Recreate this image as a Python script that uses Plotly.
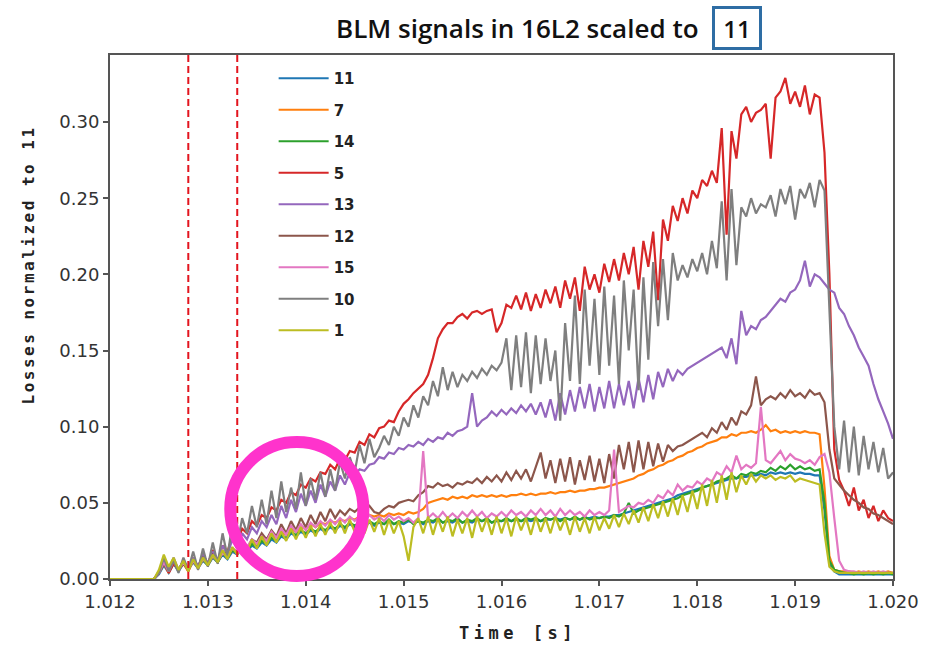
import plotly.graph_objects as go

# time grid (s), 50 us sampling
t0 = 1.012
dt = 0.00005
time_s = [round(t0 + i * dt, 6) for i in range(161)]

labels = ["11", "7", "14", "5", "13", "12", "15", "10", "1"]
colors = ["#1f77b4", "#ff7f0e", "#2ca02c", "#d62728", "#9467bd",
          "#8c564b", "#e377c2", "#7f7f7f", "#bcbd22"]

blm_11 = [0,0,0,0,0,0,0,0,0,0,
 .003,.009,.004,.010,.005,.010,.006,.011,.007,.012,
 .009,.014,.011,.016,.013,.018,.016,.020,.018,.022,
 .020,.024,.022,.026,.024,.028,.026,.030,.028,.031,
 .029,.032,.030,.033,.031,.034,.032,.035,.033,.036,
 .034,.036,.035,.037,.035,.037,.036,.038,.036,.037,
 .036,.038,.037,.038,.036,.038,.037,.039,.037,.038,
 .037,.039,.037,.038,.037,.039,.038,.039,.037,.038,
 .038,.039,.038,.039,.038,.039,.038,.039,.038,.039,
 .039,.040,.039,.040,.039,.040,.039,.040,.040,.041,
 .040,.041,.041,.042,.042,.043,.044,.045,.046,.047,
 .048,.049,.050,.051,.052,.053,.055,.056,.057,.058,
 .059,.060,.061,.062,.063,.064,.065,.066,.066,.067,
 .067,.068,.068,.069,.068,.070,.069,.070,.069,.070,
 .069,.070,.069,.069,.068,.068,.045,.010,.005,.003,
 .003,.003,.003,.003,.003,.003,.003,.003,.003,.003,
 .003]

blm_7 = [0,0,0,0,0,0,0,0,0,0,
 .004,.010,.004,.012,.006,.010,.005,.012,.007,.013,
 .009,.015,.011,.017,.014,.019,.017,.022,.020,.025,
 .022,.027,.025,.029,.027,.031,.029,.033,.031,.034,
 .033,.036,.034,.037,.036,.038,.037,.039,.038,.040,
 .039,.041,.040,.042,.041,.042,.041,.043,.042,.043,
 .042,.044,.043,.044,.046,.050,.051,.052,.053,.052,
 .054,.053,.054,.053,.055,.054,.055,.054,.055,.054,
 .055,.054,.055,.055,.056,.055,.056,.055,.056,.056,
 .057,.056,.057,.057,.058,.057,.058,.058,.059,.059,
 .060,.060,.061,.062,.063,.064,.065,.066,.068,.069,
 .071,.072,.074,.075,.077,.078,.080,.081,.083,.084,
 .086,.087,.089,.090,.091,.093,.093,.095,.094,.096,
 .096,.097,.096,.098,.101,.097,.098,.096,.097,.096,
 .097,.096,.097,.096,.096,.095,.060,.015,.006,.005,
 .005,.005,.004,.005,.004,.005,.004,.005,.004,.005,
 .004]

blm_14 = [0,0,0,0,0,0,0,0,0,0,
 .004,.010,.005,.011,.006,.011,.006,.012,.008,.013,
 .009,.015,.011,.017,.014,.019,.017,.021,.019,.023,
 .021,.025,.023,.027,.025,.029,.027,.031,.029,.032,
 .030,.033,.031,.034,.032,.035,.033,.036,.034,.037,
 .035,.037,.035,.038,.036,.038,.036,.039,.036,.038,
 .037,.039,.036,.038,.037,.039,.038,.040,.037,.039,
 .038,.040,.037,.039,.038,.040,.038,.040,.037,.039,
 .038,.040,.038,.040,.038,.040,.039,.040,.038,.040,
 .039,.040,.038,.040,.039,.041,.039,.041,.039,.040,
 .040,.041,.040,.042,.041,.043,.050,.043,.045,.046,
 .047,.048,.049,.050,.051,.052,.053,.055,.056,.057,
 .058,.060,.061,.062,.064,.065,.066,.068,.066,.069,
 .068,.070,.069,.071,.070,.073,.071,.074,.072,.075,
 .072,.074,.072,.073,.071,.072,.050,.012,.006,.005,
 .004,.004,.003,.004,.003,.004,.003,.004,.003,.004,
 .003]

blm_5 = [0,0,0,0,0,0,0,0,0,0,
 .005,.012,.004,.010,.006,.012,.005,.014,.008,.016,
 .010,.019,.012,.022,.018,.028,.024,.033,.030,.038,
 .035,.042,.040,.047,.045,.052,.050,.057,.055,.062,
 .060,.066,.064,.070,.069,.075,.072,.079,.078,.084,
 .083,.090,.088,.095,.093,.099,.100,.104,.103,.110,
 .115,.118,.122,.125,.128,.134,.145,.158,.164,.168,
 .168,.172,.174,.171,.175,.176,.174,.176,.177,.162,
 .168,.180,.178,.186,.177,.188,.176,.187,.178,.190,
 .181,.192,.178,.196,.184,.198,.176,.205,.190,.200,
 .188,.207,.195,.210,.196,.214,.200,.218,.190,.222,
 .205,.228,.183,.236,.222,.245,.235,.250,.240,.255,
 .250,.262,.258,.268,.260,.296,.226,.294,.276,.305,
 .310,.300,.306,.308,.312,.276,.316,.320,.329,.312,
 .320,.310,.324,.305,.318,.316,.280,.200,.085,.065,
 .058,.048,.060,.045,.052,.040,.048,.038,.045,.040,
 .038]

blm_13 = [0,0,0,0,0,0,0,0,0,0,
 .004,.012,.006,.014,.006,.012,.006,.014,.008,.016,
 .010,.018,.012,.022,.016,.026,.020,.030,.026,.034,
 .030,.038,.034,.042,.036,.048,.040,.052,.044,.056,
 .048,.058,.050,.062,.054,.064,.058,.068,.062,.070,
 .068,.072,.071,.075,.076,.080,.079,.083,.082,.086,
 .085,.088,.087,.090,.088,.092,.090,.093,.092,.096,
 .094,.097,.098,.100,.122,.100,.104,.106,.110,.107,
 .111,.108,.112,.109,.114,.110,.115,.108,.116,.106,
 .118,.104,.122,.108,.124,.110,.126,.112,.128,.110,
 .126,.112,.130,.112,.128,.114,.130,.112,.132,.116,
 .134,.118,.136,.126,.138,.130,.137,.134,.138,.140,
 .142,.144,.146,.148,.150,.152,.145,.158,.141,.176,
 .160,.166,.164,.170,.172,.176,.180,.184,.182,.188,
 .190,.196,.209,.192,.200,.198,.194,.190,.188,.178,
 .174,.166,.160,.152,.146,.140,.128,.118,.110,.102,
 .092]

blm_12 = [0,0,0,0,0,0,0,0,0,0,
 .004,.010,.005,.012,.006,.010,.006,.012,.008,.014,
 .010,.016,.012,.018,.016,.020,.018,.024,.020,.026,
 .024,.030,.026,.032,.028,.036,.030,.038,.032,.040,
 .034,.042,.036,.044,.038,.046,.040,.045,.042,.046,
 .044,.047,.045,.048,.044,.043,.046,.048,.047,.050,
 .051,.052,.051,.055,.057,.061,.060,.063,.061,.062,
 .060,.063,.062,.064,.063,.066,.063,.067,.064,.068,
 .064,.070,.065,.071,.066,.072,.064,.074,.083,.066,
 .078,.063,.079,.064,.080,.062,.078,.065,.081,.064,
 .079,.063,.082,.066,.088,.072,.090,.070,.091,.072,
 .090,.074,.089,.077,.088,.084,.087,.088,.090,.092,
 .094,.096,.093,.099,.096,.103,.098,.106,.101,.110,
 .108,.114,.133,.114,.118,.120,.118,.122,.119,.124,
 .120,.122,.119,.124,.121,.122,.116,.085,.066,.062,
 .058,.055,.052,.050,.047,.046,.043,.042,.040,.038,
 .036]

blm_15 = [0,0,0,0,0,0,0,0,0,0,
 .004,.011,.005,.012,.006,.011,.006,.012,.008,.013,
 .010,.015,.012,.017,.015,.020,.018,.023,.021,.026,
 .023,.028,.025,.031,.027,.033,.029,.035,.031,.036,
 .032,.037,.034,.038,.035,.039,.036,.040,.037,.041,
 .038,.041,.038,.042,.039,.041,.038,.042,.039,.041,
 .038,.040,.037,.040,.084,.040,.043,.040,.044,.040,
 .043,.040,.044,.041,.045,.041,.044,.040,.043,.041,
 .044,.041,.045,.042,.044,.041,.045,.042,.046,.042,
 .045,.041,.046,.042,.045,.042,.044,.041,.045,.042,
 .044,.042,.045,.085,.044,.046,.048,.047,.050,.049,
 .052,.050,.055,.053,.058,.055,.062,.058,.061,.060,
 .064,.062,.066,.064,.070,.068,.074,.070,.081,.072,
 .075,.073,.076,.113,.078,.076,.080,.084,.078,.082,
 .079,.078,.076,.078,.075,.080,.082,.070,.040,.012,
 .006,.005,.005,.004,.005,.004,.005,.004,.005,.004,
 .004]

blm_10 = [0,0,0,0,0,0,0,0,0,0,
 .004,.014,.005,.012,.004,.014,.006,.018,.006,.020,
 .008,.024,.010,.030,.015,.036,.022,.040,.030,.048,
 .034,.052,.036,.058,.040,.064,.044,.060,.046,.070,
 .048,.066,.052,.070,.054,.072,.058,.077,.066,.080,
 .070,.088,.076,.092,.080,.086,.094,.088,.100,.094,
 .106,.100,.114,.106,.120,.114,.130,.120,.139,.124,
 .136,.126,.134,.130,.136,.132,.138,.134,.140,.137,
 .142,.158,.124,.160,.126,.162,.122,.160,.128,.158,
 .130,.150,.104,.168,.130,.186,.128,.190,.140,.184,
 .134,.192,.140,.186,.128,.196,.150,.190,.124,.198,
 .144,.208,.166,.210,.170,.214,.196,.206,.198,.210,
 .202,.214,.200,.222,.204,.248,.196,.256,.206,.244,
 .238,.250,.240,.246,.244,.252,.238,.256,.246,.258,
 .236,.256,.250,.260,.244,.262,.255,.180,.100,.072,
 .104,.070,.100,.068,.094,.072,.090,.070,.086,.066,
 .070]

blm_1 = [0,0,0,0,0,0,0,0,0,0,
 .006,.016,.008,.014,.006,.012,.005,.013,.007,.014,
 .009,.016,.011,.019,.013,.021,.016,.024,.018,.026,
 .020,.028,.022,.030,.024,.031,.025,.033,.026,.034,
 .027,.035,.028,.036,.029,.037,.030,.038,.030,.039,
 .031,.040,.030,.039,.031,.040,.029,.039,.030,.038,
 .028,.012,.034,.040,.030,.041,.029,.040,.031,.041,
 .028,.039,.030,.040,.027,.041,.031,.040,.029,.041,
 .030,.040,.028,.041,.032,.040,.029,.041,.031,.040,
 .030,.041,.032,.040,.029,.041,.031,.040,.030,.041,
 .032,.040,.033,.042,.034,.043,.036,.045,.037,.047,
 .038,.049,.040,.051,.041,.053,.042,.055,.044,.058,
 .046,.062,.048,.065,.050,.068,.052,.070,.057,.068,
 .062,.069,.064,.068,.066,.068,.065,.067,.066,.068,
 .064,.066,.065,.064,.063,.062,.030,.008,.005,.004,
 .004,.004,.004,.004,.004,.004,.004,.004,.004,.004,
 .004]

series = [blm_11, blm_7, blm_14, blm_5, blm_13, blm_12, blm_15, blm_10, blm_1]

marker_times = [1.0128, 1.0133]
x_ticks = [1.012, 1.013, 1.014, 1.015, 1.016, 1.017, 1.018, 1.019, 1.020]
y_ticks = [0.0, 0.05, 0.10, 0.15, 0.20, 0.25, 0.30]

fig = go.Figure()
for name, vals, col in zip(labels, series, colors):
    fig.add_trace(go.Scatter(x=time_s, y=vals, mode="lines", name=name,
                             legendgroup=name,
                             line=dict(color=col, width=2.2)))

for xm in marker_times:
    fig.add_shape(type="line", xref="x", yref="paper", x0=xm, x1=xm, y0=0, y1=1,
                  line=dict(color="#e3141e", width=2, dash="7px,4px"), layer="above")

# highlight circle
fig.add_shape(type="circle", xref="paper", yref="paper",
              x0=0.1536, x1=0.3236, y0=0.0057, y1=0.2615,
              line=dict(color="#ff33cc", width=12), layer="above")

tickfont = dict(family="DejaVu Sans", size=18, color="#333333")
fig.update_layout(
    width=931, height=648,
    margin=dict(l=110, r=33, t=55, b=69),
    paper_bgcolor="white", plot_bgcolor="white",
    showlegend=True,
    legend=dict(x=0.209, y=0.9866, xanchor="left", yanchor="top",
                font=dict(family="DejaVu Sans", size=15, color="#222222", weight="bold"),
                bgcolor="rgba(0,0,0,0)", tracegroupgap=9, itemwidth=50),
    xaxis=dict(range=[1.012, 1.020], tickvals=x_ticks,
               ticktext=["%.3f" % v for v in x_ticks],
               showgrid=False, zeroline=False, showline=True, mirror=True,
               linecolor="#555555", linewidth=2, ticks="outside", ticklen=5,
               tickcolor="#555555", tickwidth=1.5, tickfont=tickfont),
    yaxis=dict(range=[0, 0.344], tickvals=y_ticks,
               ticktext=["%.2f" % v for v in y_ticks],
               showgrid=False, zeroline=False, showline=True, mirror=True,
               linecolor="#555555", linewidth=2, ticks="outside", ticklen=5,
               tickcolor="#555555", tickwidth=1.5, tickfont=tickfont),
)

fig.add_annotation(text="BLM signals in 16L2 scaled to", xref="paper", yref="paper",
                   x=0.7551, y=1.0515, showarrow=False, xanchor="right", yanchor="middle",
                   font=dict(family="Open Sans", size=26, color="#111111", weight=600))
fig.add_annotation(text="11", xref="paper", yref="paper",
                   x=0.8008, y=1.0515, showarrow=False, xanchor="center", yanchor="middle",
                   width=40, height=34, bordercolor="#2e6da4", borderwidth=3, borderpad=2,
                   font=dict(family="Open Sans", size=24, color="#111111", weight=600))
fig.add_annotation(text="Time [s]", xref="paper", yref="paper",
                   x=0.5216, y=-0.103, showarrow=False, xanchor="center", yanchor="middle",
                   font=dict(family="DejaVu Sans Mono", size=17, color="#222222", weight="bold"))
fig.add_annotation(text="Losses normalized to 11", xref="paper", yref="paper",
                   x=-0.104, y=0.599, showarrow=False, xanchor="center", yanchor="middle",
                   textangle=-90,
                   font=dict(family="DejaVu Sans Mono", size=16, color="#222222", weight="bold"))

post = """
document.querySelectorAll('text.annotation-text').forEach(function(e){
  var s = e.textContent;
  if (s.indexOf('Time') === 0) { e.style.letterSpacing = '4.5px'; }
  if (s.indexOf('Losses') === 0) { e.style.letterSpacing = '2.5px'; }
});
"""
fig.write_html("out.html", post_script=post)
